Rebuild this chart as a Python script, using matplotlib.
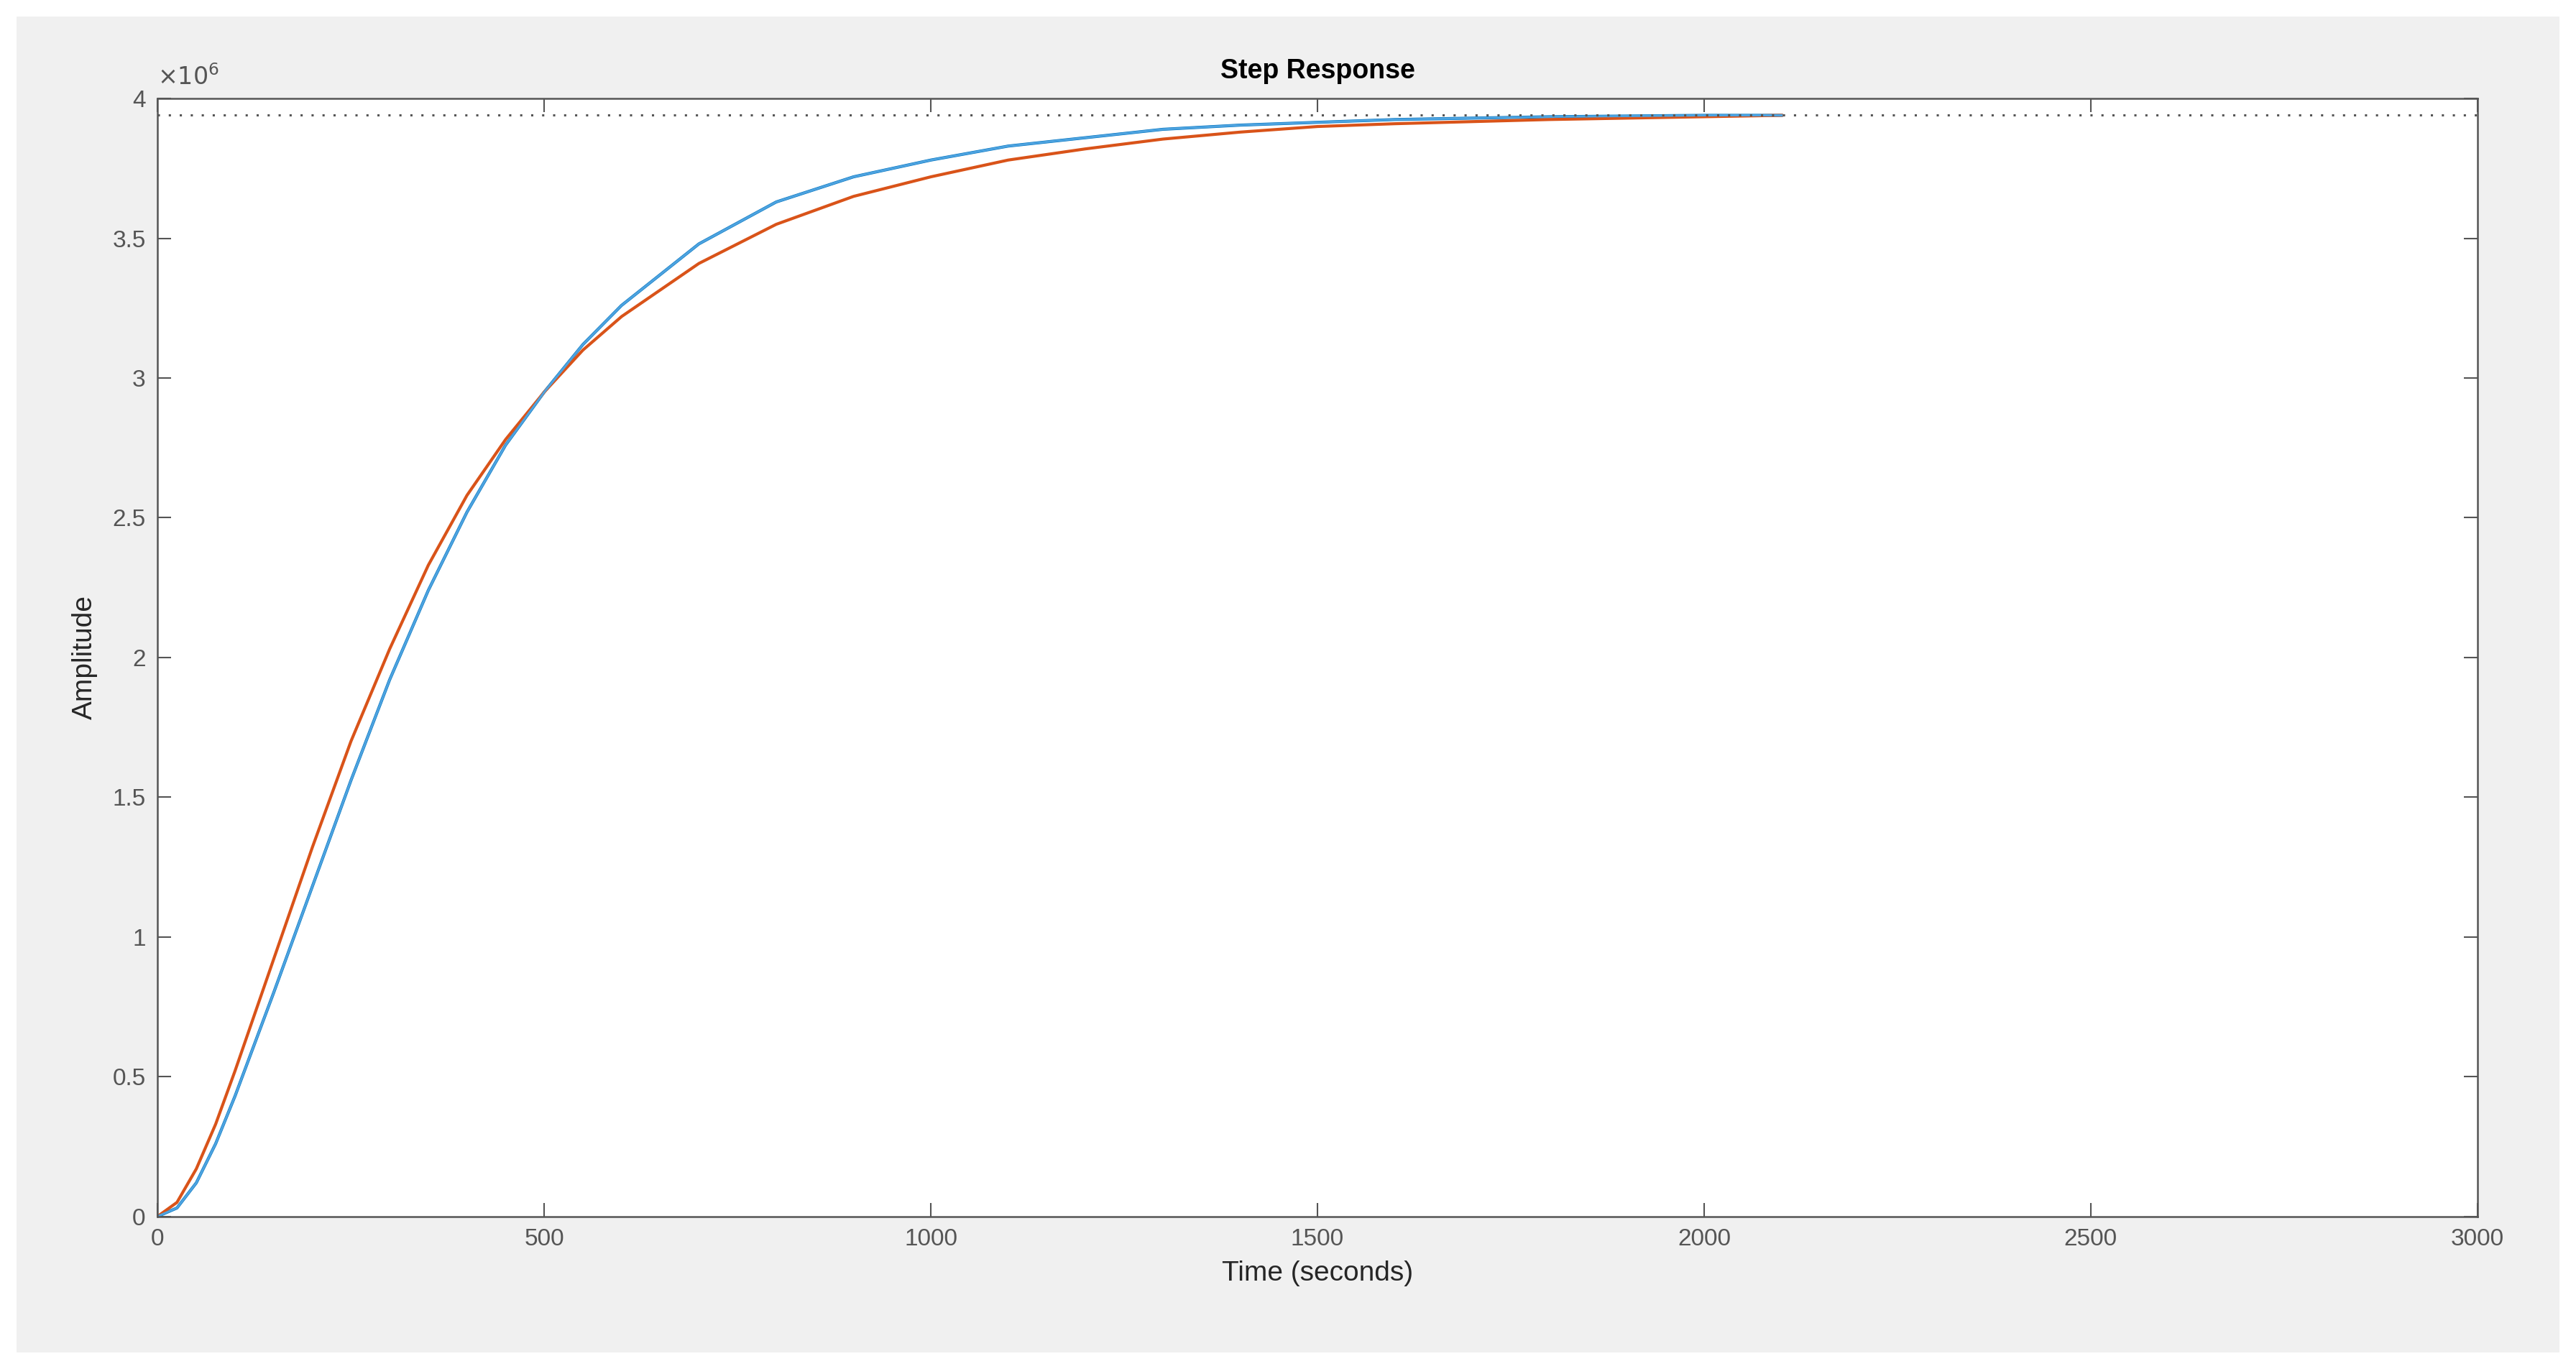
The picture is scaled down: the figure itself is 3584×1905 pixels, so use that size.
import matplotlib
matplotlib.use("Agg")
import matplotlib.pyplot as plt

t_blue = [0, 25, 50, 75, 100, 150, 200, 250, 300, 350, 400, 450, 500, 550, 600, 700, 800, 900, 1000, 1100, 1200, 1300, 1400, 1500, 1600, 1800, 2000, 2100]
y_blue = [0, 0.03, 0.12, 0.26, 0.43, 0.80, 1.18, 1.56, 1.92, 2.24, 2.52, 2.76, 2.95, 3.12, 3.26, 3.48, 3.63, 3.72, 3.78, 3.83, 3.86, 3.89, 3.905, 3.915, 3.925, 3.935, 3.94, 3.94]
t_orange = [0, 25, 50, 75, 100, 150, 200, 250, 300, 350, 400, 450, 500, 550, 600, 700, 800, 900, 1000, 1100, 1200, 1300, 1400, 1500, 1600, 1800, 2000, 2100]
y_orange = [0, 0.05, 0.17, 0.33, 0.52, 0.92, 1.32, 1.70, 2.03, 2.33, 2.58, 2.78, 2.95, 3.10, 3.22, 3.41, 3.55, 3.65, 3.72, 3.78, 3.82, 3.855, 3.88, 3.90, 3.91, 3.925, 3.935, 3.94]
final_value = 3.94
xticks = [0, 500, 1000, 1500, 2000, 2500, 3000]
yticks = [0, 0.5, 1, 1.5, 2, 2.5, 3, 3.5, 4]
ytick_labels = ["0", "0.5", "1", "1.5", "2", "2.5", "3", "3.5", "4"]

plt.rcParams['font.family'] = ['Liberation Sans', 'DejaVu Sans']
fig = plt.figure(figsize=(35.84, 19.05), dpi=100, facecolor='white')
panel = fig.add_axes([0.0064, 0.012, 0.9872, 0.976])
panel.set_facecolor('#f0f0f0'); panel.set_xticks([]); panel.set_yticks([])
for s in panel.spines.values():
    s.set_visible(False)
ax = fig.add_axes([0.0612, 0.1115, 0.9005, 0.8165])
gray = '#262626'
ax.plot(t_blue, [v * 1e6 for v in y_blue], color='#0072BD', lw=3)
ax.plot(t_orange, [v * 1e6 for v in y_orange], color='#D95319', lw=3)
ax.plot(t_blue, [v * 1e6 for v in y_blue], color='#4DA3E0', lw=2.2)
ax.axhline(final_value * 1e6, color='#555555', ls=(0, (1, 4)), lw=2.2)
ax.set_xlim(0, 3000); ax.set_ylim(0, 4e6)
ax.set_xticks(xticks)
ax.set_yticks([v * 1e6 for v in yticks])
ax.set_yticklabels(ytick_labels)
ax.tick_params(direction='in', length=14, width=1.5, colors='#555555', labelsize=24, top=True, right=True, pad=12)
for s in ax.spines.values():
    s.set_color('#555555'); s.set_linewidth(1.8)
ax.set_title('Step Response', fontsize=27, fontweight='bold', color='black', pad=20)
ax.set_xlabel('Time (seconds)', fontsize=28, color=gray, labelpad=10)
ax.set_ylabel('Amplitude', fontsize=28, color=gray, labelpad=15)
ax.text(0, 1.008, r'$\times10^{6}$', transform=ax.transAxes, fontsize=24, color='#555555', va='bottom', ha='left')
fig.savefig('out.png', dpi=100, facecolor='white')
